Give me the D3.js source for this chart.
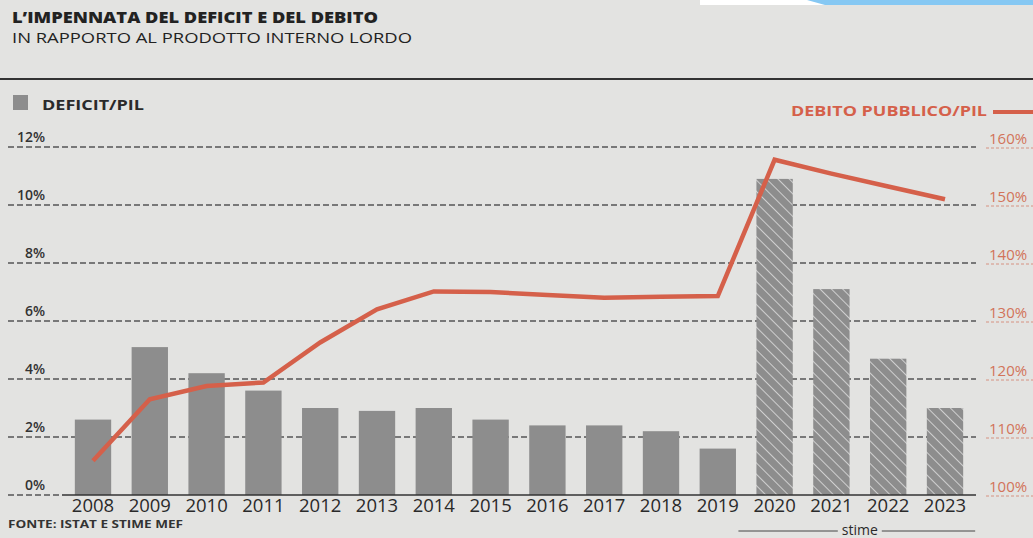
<!DOCTYPE html>
<html><head><meta charset="utf-8">
<script src="https://cdn.jsdelivr.net/npm/d3@7"></script>
<style>html,body{margin:0;padding:0;background:#e3e3e1;}svg{display:block;}</style>
</head><body>
<svg id="c" width="1033" height="538"></svg>
<script>
const years = ["2008","2009","2010","2011","2012","2013","2014","2015","2016","2017","2018","2019","2020","2021","2022","2023"];
const deficit = [2.6,5.1,4.2,3.6,3.0,2.9,3.0,2.6,2.4,2.4,2.2,1.6,10.9,7.1,4.7,3.0];
const debt = [105.9,116.5,118.8,119.4,126.3,132.0,135.1,135.0,134.5,134.0,134.2,134.3,157.8,155.4,153.2,151.0];
const estimateYears = ["2020","2021","2022","2023"];
const leftTicks = [0,2,4,6,8,10,12];
const rightTicks = [100,110,120,130,140,150,160];
const title = "L\u2019IMPENNATA DEL DEFICIT E DEL DEBITO";
const subtitle = "IN RAPPORTO AL PRODOTTO INTERNO LORDO";
const legendBars = "DEFICIT/PIL";
const legendLine = "DEBITO PUBBLICO/PIL";
const source = "FONTE: ISTAT E STIME MEF";
const estimateLabel = "stime";

const svg = d3.select("#c");
const W = 1033, H = 538;
const ORANGE = "#d5604a", ORANGE_T = "#d2735a", BAR = "#8d8d8d", INK = "#2a2a2a";
const FONT = "'Open Sans', 'Noto Sans', sans-serif";

svg.append("rect").attr("width", W).attr("height", H).attr("fill", "#e3e3e1");
// top strip artifacts
svg.append("rect").attr("x", 700).attr("y", 0).attr("width", 333).attr("height", 5).attr("fill", "#ffffff");
svg.append("path").attr("d", "M807,0 L1033,0 L1033,5 L825,5 Z").attr("fill", "#86c8f3");

const defs = svg.append("defs");
const pat = defs.append("pattern").attr("id", "hatch").attr("patternUnits", "userSpaceOnUse")
  .attr("width", 8).attr("height", 8).attr("patternTransform", "rotate(45)");
pat.append("rect").attr("width", 8).attr("height", 8).attr("fill", BAR);
pat.append("line").attr("x1", 0).attr("y1", 0).attr("x2", 8).attr("y2", 0)
  .attr("stroke", "#e6e6e6").attr("stroke-width", 1.5);

const x = d3.scaleBand().domain(years).range([64.6, 973.4]).paddingInner(0.36).paddingOuter(0.18);
const yL = d3.scaleLinear().domain([0, 12]).range([495, 147]);
const yR = d3.scaleLinear().domain([100, 160]).range([495, 147]);

// title block
svg.append("text").attr("x", 12).attr("y", 22.5).text(title)
  .attr("font-family", FONT).attr("font-weight", 800).attr("font-size", 16).attr("fill", "#222")
  .attr("textLength", 366).attr("lengthAdjust", "spacingAndGlyphs");
svg.append("text").attr("x", 12).attr("y", 43).text(subtitle)
  .attr("font-family", FONT).attr("font-weight", 500).attr("font-size", 14.5).attr("fill", "#222")
  .attr("textLength", 400).attr("lengthAdjust", "spacingAndGlyphs");
svg.append("line").attr("x1", 0).attr("x2", W).attr("y1", 79).attr("y2", 79)
  .attr("stroke", "#333").attr("stroke-width", 2);

// legends
svg.append("rect").attr("x", 13).attr("y", 95).attr("width", 15).attr("height", 15).attr("fill", BAR);
svg.append("text").attr("x", 42).attr("y", 110).text(legendBars)
  .attr("font-family", FONT).attr("font-weight", 700).attr("font-size", 14).attr("fill", "#2a2a2a")
  .attr("textLength", 102).attr("lengthAdjust", "spacingAndGlyphs");
svg.append("text").attr("x", 987).attr("y", 116).attr("text-anchor", "end").text(legendLine)
  .attr("font-family", FONT).attr("font-weight", 700).attr("font-size", 14).attr("fill", ORANGE)
  .attr("textLength", 196).attr("lengthAdjust", "spacingAndGlyphs");
svg.append("line").attr("x1", 993).attr("x2", W).attr("y1", 112).attr("y2", 112)
  .attr("stroke", ORANGE).attr("stroke-width", 4);

// gridlines
const grid = svg.append("g");
leftTicks.forEach(t => {
  const y = yL(t);
  grid.append("line").attr("x1", 8).attr("x2", t === 0 ? 62 : 976).attr("y1", y).attr("y2", y)
    .attr("stroke", "#555").attr("stroke-width", 1.3).attr("stroke-dasharray", "6,3");
});

// left axis labels
svg.append("g").selectAll("text").data(leftTicks).join("text")
  .attr("x", 45).attr("y", d => yL(d) - 5).attr("text-anchor", "end")
  .attr("font-family", FONT).attr("font-weight", 600).attr("font-size", 14).attr("fill", "#333")
  .text(d => d + "%");

// right axis labels
const rg = svg.append("g");
rg.selectAll("text").data(rightTicks).join("text")
  .attr("x", 989).attr("y", d => yR(d) - 3)
  .attr("font-family", FONT).attr("font-size", 15).attr("fill", ORANGE_T)
  .text(d => d + "%");
rg.selectAll("line").data(rightTicks).join("line")
  .attr("x1", 986).attr("x2", W).attr("y1", d => yR(d) + 1).attr("y2", d => yR(d) + 1)
  .attr("stroke", ORANGE_T).attr("stroke-width", 1).attr("stroke-dasharray", "3,2").attr("opacity", 0.7);

// bars
svg.append("g").selectAll("rect").data(years).join("rect")
  .attr("x", d => x(d)).attr("width", x.bandwidth())
  .attr("y", (d, i) => yL(deficit[i])).attr("height", (d, i) => yL(0) - yL(deficit[i]))
  .attr("fill", d => estimateYears.includes(d) ? "url(#hatch)" : BAR);

// baseline
svg.append("line").attr("x1", 62).attr("x2", 976).attr("y1", yL(0)).attr("y2", yL(0))
  .attr("stroke", "#333").attr("stroke-width", 1.6);

// debt line
const line = d3.line().x((d, i) => x(years[i]) + x.bandwidth() / 2).y(d => yR(d));
svg.append("path").datum(debt).attr("d", line).attr("fill", "none")
  .attr("stroke", ORANGE).attr("stroke-width", 4.5).attr("stroke-linejoin", "miter");

// x labels
svg.append("g").selectAll("text").data(years).join("text")
  .attr("x", d => x(d) + x.bandwidth() / 2).attr("y", 512).attr("text-anchor", "middle")
  .attr("font-family", FONT).attr("font-size", 18.5).attr("fill", INK)
  .text(d => d);

// stime
const sx0 = x(estimateYears[0]) - 18, sx1 = x(estimateYears[estimateYears.length - 1]) + x.bandwidth() + 12;
const sc = (sx0 + sx1) / 2 + 3;
svg.append("text").attr("x", sc).attr("y", 535).attr("text-anchor", "middle").text(estimateLabel)
  .attr("font-family", FONT).attr("font-size", 14).attr("fill", INK);
svg.append("line").attr("x1", sx0).attr("x2", sc - 22).attr("y1", 531).attr("y2", 531).attr("stroke", "#444").attr("stroke-width", 1);
svg.append("line").attr("x1", sc + 22).attr("x2", sx1).attr("y1", 531).attr("y2", 531).attr("stroke", "#444").attr("stroke-width", 1);

// source
svg.append("text").attr("x", 8).attr("y", 528).text(source)
  .attr("font-family", FONT).attr("font-weight", 700).attr("font-size", 10).attr("fill", "#333")
  .attr("textLength", 175).attr("lengthAdjust", "spacingAndGlyphs");
</script>
</body></html>
